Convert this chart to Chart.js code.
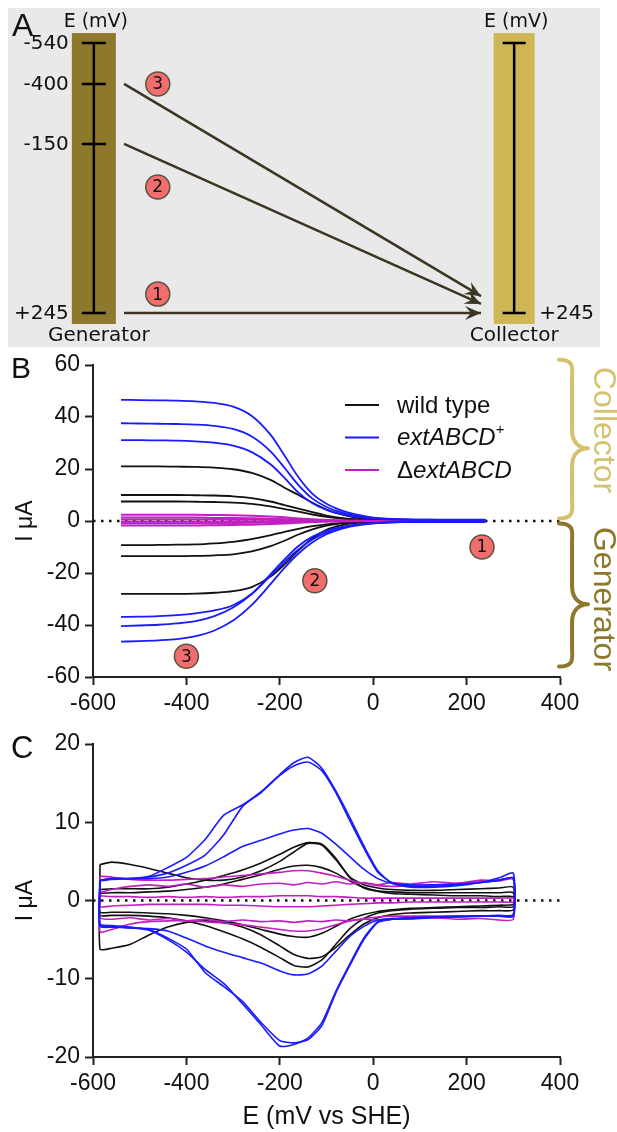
<!DOCTYPE html>
<html>
<head>
<meta charset="utf-8">
<script src="https://cdn.jsdelivr.net/npm/chart.js@4.4.0/dist/chart.umd.min.js"></script>
<style>
  html, body { margin: 0; padding: 0; background: #fff; }
  body { width: 617px; height: 1132px; position: relative; overflow: hidden; }
  canvas { position: absolute; }
  #chartA { left: 8px; top: 8px; background: #e9e9e9; }
  #chartB { left: 0; top: 340px; }
  #chartC { left: 0; top: 715px; }
</style>
</head>
<body>
<canvas id="chartA" width="592" height="339"></canvas>
<canvas id="chartB" width="617" height="375"></canvas>
<canvas id="chartC" width="617" height="417"></canvas>
<script>
/* ===== data ===== */

// A: schematic, potentials in mV
const genLevels = [-540, -400, -150, 245];
const colLevels = [-540, 245];
const stepFrom = [245, -150, -400];   // generator potential of step 1, 2, 3
const stepTo = 245;                   // collector potential
const stepNames = ['1', '2', '3'];

// B: steady state currents (µA) vs generator potential (mV)
const bE = [-540, -500, -460, -420, -380, -340, -300, -260, -220, -190, -160, -130, -100, -70, -40, -10, 20, 60, 120, 180, 240];
const extCol1 = [46.6, 46.5, 46.4, 46.3, 46.0, 45.4, 44.0, 40.4, 33.2, 25.2, 16.8, 10.4, 6.6, 4.2, 2.6, 1.6, 1.0, 0.7, 0.5, 0.5, 0.5];
const extCol2 = [37.6, 37.5, 37.4, 37.3, 37.1, 36.6, 35.4, 32.5, 26.8, 20.5, 13.8, 8.6, 5.4, 3.4, 2.1, 1.3, 0.9, 0.6, 0.5, 0.4, 0.4];
const extCol3 = [31.1, 31.1, 31.0, 30.9, 30.6, 30.1, 29.0, 26.5, 21.8, 16.6, 10.9, 6.8, 4.3, 2.7, 1.7, 1.1, 0.8, 0.5, 0.4, 0.4, 0.4];
const extGen1 = [-46.4, -46.2, -45.9, -45.4, -44.3, -42.1, -38.3, -32.3, -24.3, -18.0, -12.5, -8.2, -5.1, -3.1, -1.9, -1.1, -0.7, -0.4, -0.3, -0.3, -0.3];
const extGen2 = [-40.4, -40.2, -39.9, -39.4, -38.5, -36.6, -33.3, -28.1, -21.1, -15.7, -10.9, -7.1, -4.5, -2.7, -1.6, -1.0, -0.6, -0.4, -0.3, -0.3, -0.3];
const extGen3 = [-36.9, -36.8, -36.6, -36.2, -35.5, -34.4, -32.4, -28.0, -20.5, -14.8, -9.6, -6.0, -3.8, -2.4, -1.5, -0.9, -0.6, -0.4, -0.3, -0.3, -0.3];
const wtCol1 = [21.0, 21.0, 21.0, 20.9, 20.8, 20.5, 19.9, 18.5, 15.8, 12.8, 10.0, 7.0, 4.4, 2.6, 1.4, 0.7, 0.4, 0.2, 0.1, 0.1, 0.1];
const wtCol2 = [10.0, 10.0, 10.0, 10.0, 9.9, 9.8, 9.5, 8.8, 7.5, 6.1, 4.8, 3.4, 2.1, 1.2, 0.7, 0.4, 0.2, 0.1, 0.1, 0.1, 0.1];
const wtCol3 = [7.5, 7.5, 7.5, 7.5, 7.4, 7.3, 7.1, 6.6, 5.6, 4.6, 3.6, 2.5, 1.6, 0.9, 0.5, 0.3, 0.2, 0.1, 0.1, 0.1, 0.1];
const wtGen1 = [-28.0, -28.0, -28.0, -28.0, -27.9, -27.6, -27.0, -25.4, -21.4, -16.7, -11.3, -6.6, -3.4, -1.7, -0.8, -0.4, -0.2, -0.1, -0.1, -0.1, -0.1];
const wtGen2 = [-13.5, -13.5, -13.5, -13.5, -13.4, -13.2, -12.8, -11.7, -9.7, -7.6, -5.2, -3.2, -1.8, -0.9, -0.5, -0.2, -0.1, 0, 0, 0, 0];
const wtGen3 = [-9.3, -9.3, -9.2, -9.1, -9.0, -8.6, -8.0, -7.0, -5.5, -4.2, -3.0, -2.0, -1.3, -0.8, -0.5, -0.3, -0.2, -0.1, 0, 0, 0];
const mutCol1 = [2.4, 2.4, 2.4, 2.4, 2.4, 2.3, 2.2, 2.0, 1.7, 1.4, 1.0, 0.7, 0.4, 0.2, 0.1, 0.1, 0.1, 0.1, 0.1, 0.1, 0.1];
const mutCol2 = [1.3, 1.3, 1.3, 1.3, 1.3, 1.2, 1.2, 1.1, 0.9, 0.7, 0.5, 0.3, 0.2, 0.1, 0.1, 0, 0, 0, 0, 0, 0];
const mutCol3 = [0.6, 0.6, 0.6, 0.6, 0.6, 0.6, 0.5, 0.5, 0.4, 0.3, 0.2, 0.1, 0.1, 0, 0, 0, 0, 0, 0, 0, 0];
const mutGen1 = [-0.3, -0.3, -0.3, -0.3, -0.3, -0.3, -0.3, -0.3, -0.2, -0.2, -0.1, -0.1, 0, 0, 0, 0, 0, 0, 0, 0, 0];
const mutGen2 = [-0.9, -0.9, -0.9, -0.9, -0.9, -0.9, -0.8, -0.7, -0.6, -0.5, -0.4, -0.2, -0.1, -0.1, 0, 0, 0, 0, 0, 0, 0];
const mutGen3 = [-1.7, -1.7, -1.7, -1.7, -1.7, -1.6, -1.5, -1.4, -1.2, -1.0, -0.7, -0.4, -0.2, -0.1, -0.1, 0, 0, 0, 0, 0, 0];
const stepE = [233, -125, -400];      // where the numbered markers sit in B
const stepI = [-10, -23, -52];
const legendLabels = ['wild type', 'extABCD+', 'ΔextABCD'];
const braceNames = ['Collector', 'Generator'];
const braceTop = [62, -1];
const braceTip = [28, -32];
const braceBottom = [1, -56];
const braceText = [35, -30];

// C: cyclic voltammograms, forward (Fwd) and reverse (Rev) sweep on the same potentials
const cvE = [-585, -560, -520, -480, -440, -400, -360, -320, -280, -240, -200, -170, -140, -110, -80, -50, -20, 10, 40, 80, 130, 180, 230, 270, 300];
const ext1Fwd = [2.6, 2.8, 2.8, 3.1, 4.2, 5.5, 7.8, 10.9, 12.2, 13.9, 16.1, 17.6, 18.3, 16.9, 14.0, 10.6, 7.0, 3.8, 2.2, 1.7, 1.7, 1.9, 2.3, 2.9, 3.5];
const ext1Rev = [-3.2, -3.3, -3.5, -3.7, -4.8, -6.2, -9.2, -11.0, -12.9, -15.6, -17.9, -18.2, -17.8, -16.0, -11.8, -8.3, -5.0, -2.8, -2.4, -2.2, -2.1, -2.0, -2.0, -1.9, -1.8];
const ext2Fwd = [2.5, 2.7, 2.8, 3.0, 3.5, 4.5, 5.8, 8.4, 12.0, 13.8, 16.0, 17.2, 17.7, 16.6, 13.8, 10.2, 6.7, 3.6, 2.3, 1.8, 1.8, 2.0, 2.3, 2.6, 2.9];
const ext2Rev = [-3.0, -3.2, -3.4, -3.8, -5.0, -6.6, -8.8, -10.6, -13.2, -15.9, -18.6, -18.4, -17.6, -15.6, -11.6, -8.1, -4.8, -2.7, -2.4, -2.3, -2.2, -2.1, -2.0, -2.0, -1.9];
const ext3Fwd = [2.6, 2.8, 2.8, 2.8, 3.0, 3.6, 4.4, 5.6, 6.9, 7.7, 8.5, 9.0, 9.2, 8.6, 7.2, 5.6, 4.0, 2.8, 2.2, 2.0, 2.0, 2.1, 2.3, 2.6, 2.9];
const ext3Rev = [-3.3, -3.4, -3.5, -3.6, -3.9, -4.8, -5.8, -6.6, -7.3, -8.0, -9.0, -9.5, -9.4, -8.4, -6.5, -4.6, -3.3, -2.5, -2.3, -2.2, -2.1, -2.1, -2.0, -2.0, -2.0];
const wt1Fwd = [4.6, 4.9, 4.6, 4.1, 3.5, 2.9, 2.6, 2.6, 3.0, 3.8, 5.0, 6.2, 7.3, 7.1, 5.2, 3.0, 2.0, 1.6, 1.4, 1.3, 1.3, 1.4, 1.5, 1.6, 1.7];
const wt1Rev = [-6.2, -6.1, -5.6, -4.4, -3.4, -2.8, -2.6, -2.8, -3.4, -4.4, -5.8, -6.9, -7.4, -7.2, -6.0, -4.4, -3.0, -2.2, -1.8, -1.6, -1.5, -1.4, -1.3, -1.3, -1.2];
const wt2Fwd = [1.4, 1.5, 1.5, 1.5, 1.7, 2.1, 2.6, 3.2, 3.9, 4.8, 5.9, 6.8, 7.4, 7.2, 5.4, 2.9, 1.6, 1.2, 1.1, 1.0, 1.0, 1.0, 1.0, 1.0, 1.0];
const wt2Rev = [-1.9, -1.9, -1.9, -2.0, -2.2, -2.6, -3.2, -4.0, -4.9, -6.0, -7.3, -8.3, -8.5, -7.6, -5.6, -3.6, -2.3, -1.6, -1.3, -1.1, -1.0, -0.9, -0.9, -0.8, -0.8];
const wt3Fwd = [0.9, 1.0, 1.0, 1.1, 1.2, 1.4, 1.7, 2.1, 2.7, 3.3, 4.0, 4.4, 4.5, 4.2, 3.5, 2.5, 1.7, 1.2, 0.9, 0.8, 0.7, 0.6, 0.6, 0.5, 0.5];
const wt3Rev = [-1.5, -1.5, -1.5, -1.6, -1.7, -1.9, -2.2, -2.6, -3.1, -3.7, -4.3, -4.6, -4.7, -4.2, -3.3, -2.4, -1.8, -1.4, -1.2, -1.0, -0.9, -0.8, -0.7, -0.6, -0.5];
const mut1Fwd = [3.1, 3.0, 2.7, 2.6, 2.6, 2.7, 2.8, 3.0, 3.2, 3.4, 3.6, 3.8, 3.8, 3.5, 3.1, 2.6, 2.2, 1.9, 1.8, 1.9, 2.0, 2.2, 2.4, 2.6, 2.8];
const mut1Rev = [-4.0, -3.7, -3.0, -2.7, -2.6, -2.6, -2.7, -2.9, -3.1, -3.4, -3.7, -3.9, -3.9, -3.6, -3.1, -2.6, -2.3, -2.1, -2.0, -2.0, -2.0, -2.0, -2.0, -2.0, -2.0];
const mut2Fwd = [1.0, 1.4, 1.8, 2.0, 1.8, 2.1, 1.7, 2.0, 1.8, 2.1, 2.2, 2.0, 2.3, 2.1, 2.4, 2.1, 2.3, 2.0, 2.3, 2.1, 2.4, 2.2, 2.6, 2.5, 2.7];
const mut2Rev = [-2.2, -2.4, -2.2, -2.5, -2.3, -2.6, -2.4, -2.7, -2.5, -2.7, -2.6, -2.8, -2.6, -2.7, -2.5, -2.6, -2.4, -2.5, -2.3, -2.4, -2.2, -2.4, -2.3, -2.5, -2.4];
const mut3Fwd = [0.6, 0.5, 0.5, 0.4, 0.5, 0.4, 0.5, 0.4, 0.5, 0.5, 0.6, 0.6, 0.6, 0.5, 0.5, 0.4, 0.3, 0.3, 0.3, 0.3, 0.3, 0.3, 0.3, 0.3, 0.3];
const mut3Rev = [-0.8, -0.7, -0.6, -0.5, -0.5, -0.5, -0.5, -0.6, -0.6, -0.7, -0.8, -0.8, -0.8, -0.7, -0.6, -0.5, -0.4, -0.3, -0.3, -0.2, -0.2, -0.2, -0.2, -0.2, -0.2];

/* ===== styles / layout ===== */
const FONT = "'Liberation Sans', Arial, sans-serif";
const AFONT = "'DejaVu Sans', Verdana, sans-serif";
const COL = { wt: '#111111', ext: '#1a1aff', mut: '#c21fc2' };
const GEN_COLOR = '#8d782b', COL_COLOR = '#cfb654';
const BADGE = { fill: '#f26e6e', border: '#5b5440' };

// schematic layout (fractions of panel A)
const levelY = { '-540': 0.103, '-400': 0.224, '-150': 0.401, '245': 0.9 };
const GEN_X = 0.145, COL_X = 0.855, ARROW_X0 = 0.196, ARROW_X1 = 0.809;
const tipShift = [0, -0.027, -0.05];
const BADGE_X = 0.253, badgeY = [0.844, 0.528, 0.224];

Chart.defaults.font.family = FONT;
Chart.defaults.color = '#111';

/* ===== helpers ===== */
function fmtLevel(v) { return v > 0 ? '+' + v : String(v); }

function curve(xs, ys, color, order, width) {
    return {
        data: xs.map((x, i) => ({ x, y: ys[i] })),
        showLine: true, borderColor: color, borderWidth: width,
        pointRadius: 0, cubicInterpolationMode: 'monotone', order
    };
}

function loop(fwd, rev, color, order) {
    const pts = fwd.map((y, i) => ({ x: cvE[i], y }));
    const back = rev.map((y, i) => ({ x: cvE[i], y })).reverse();
    return {
        data: pts.concat(back, [pts[0]]),
        showLine: true, borderColor: color, borderWidth: 1.6,
        pointRadius: 0, tension: 0.2, order
    };
}

function zeroLine(order) {
    return {
        data: [{ x: -600, y: 0 }, { x: 400, y: 0 }],
        showLine: true, borderColor: '#111', borderWidth: 2.5,
        borderDash: [2.5, 5.5], pointRadius: 0, order
    };
}

function axis(min, max, step, fit, horizontal, title, titlePad) {
    return {
        type: 'linear', min, max,
        ticks: { stepSize: step, color: '#111', font: { family: FONT, size: 23 }, padding: 5 },
        grid: { drawOnChartArea: false, drawTicks: true, tickLength: 8, tickWidth: 2, tickColor: '#222' },
        border: { display: true, color: '#222', width: 2 },
        title: title ? { display: true, text: title, color: '#111', font: { family: FONT, size: horizontal ? 25 : 23 }, padding: titlePad } : { display: false },
        afterFit: s => { if (horizontal) s.height = fit; else s.width = fit; }
    };
}

function drawBadgeText(ctx, x, y, txt) {
    ctx.save();
    ctx.fillStyle = '#111';
    ctx.font = '17px ' + AFONT;
    ctx.textAlign = 'center';
    ctx.textBaseline = 'middle';
    ctx.fillText(txt, x, y + 1);
    ctx.restore();
}

function drawBrace(ctx, x, yTop, yTip, yBot, depth, color) {
    const m = x + depth * 0.45;
    const r = 9;
    ctx.save();
    ctx.strokeStyle = color;
    ctx.lineWidth = 4;
    ctx.lineCap = 'round';
    ctx.beginPath();
    ctx.moveTo(x, yTop);
    ctx.bezierCurveTo(m + 3, yTop, m, yTop + r, m, yTop + 2 * r);
    ctx.lineTo(m, yTip - 2 * r);
    ctx.bezierCurveTo(m, yTip - 5, x + depth - 8, yTip, x + depth, yTip);
    ctx.moveTo(x + depth, yTip);
    ctx.bezierCurveTo(x + depth - 8, yTip, m, yTip + 5, m, yTip + 2 * r);
    ctx.lineTo(m, yBot - 2 * r);
    ctx.bezierCurveTo(m, yBot - r, m + 3, yBot, x, yBot);
    ctx.stroke();
    ctx.restore();
}

function panelLetter(ctx, txt, x, y, size) {
    ctx.save();
    ctx.fillStyle = '#111';
    ctx.font = size + 'px ' + FONT;
    ctx.textBaseline = 'alphabetic';
    ctx.fillText(txt, x, y);
    ctx.restore();
}

/* ===== A: schematic ===== */
const schematicPlugin = {
    id: 'schematic',
    beforeDatasetsDraw(chart) {
        const { ctx, scales: { x, y } } = chart;
        const barTop = y.getPixelForValue(0.074), barBot = y.getPixelForValue(0.932);
        const bars = [
            { cx: GEN_X, w: 44, color: GEN_COLOR, levels: genLevels, half: 12 },
            { cx: COL_X, w: 41, color: COL_COLOR, levels: colLevels, half: 11.5 }
        ];
        bars.forEach(b => {
            const px = x.getPixelForValue(b.cx);
            ctx.fillStyle = b.color;
            ctx.fillRect(px - b.w / 2, barTop, b.w, barBot - barTop);
            const ys = b.levels.map(v => y.getPixelForValue(levelY[v]));
            ctx.strokeStyle = '#000';
            ctx.lineWidth = 2.5;
            ctx.beginPath();
            ctx.moveTo(px, Math.min(...ys));
            ctx.lineTo(px, Math.max(...ys));
            ys.forEach(py => { ctx.moveTo(px - b.half, py); ctx.lineTo(px + b.half, py); });
            ctx.stroke();
        });
    },
    afterDraw(chart) {
        const { ctx, scales: { x, y } } = chart;
        // arrow heads
        chart.data.datasets.forEach(ds => {
            if (!ds.arrow) return;
            const [p0, p1] = ds.data;
            const x0 = x.getPixelForValue(p0.x), y0 = y.getPixelForValue(p0.y);
            const x1 = x.getPixelForValue(p1.x), y1 = y.getPixelForValue(p1.y);
            const a = Math.atan2(y1 - y0, x1 - x0);
            ctx.save();
            ctx.translate(x1, y1);
            ctx.rotate(a);
            ctx.fillStyle = ds.borderColor;
            ctx.beginPath();
            ctx.moveTo(0, 0);
            ctx.lineTo(-16, -7);
            ctx.lineTo(-10, 0);
            ctx.lineTo(-16, 7);
            ctx.closePath();
            ctx.fill();
            ctx.restore();
        });
        // level labels
        ctx.save();
        ctx.fillStyle = '#111';
        ctx.font = '20px ' + AFONT;
        ctx.textBaseline = 'middle';
        ctx.textAlign = 'right';
        const gx = x.getPixelForValue(GEN_X), cx = x.getPixelForValue(COL_X);
        genLevels.forEach(v => ctx.fillText(fmtLevel(v), gx - 25, y.getPixelForValue(levelY[v]) + 1));
        ctx.textAlign = 'left';
        ctx.fillText(fmtLevel(stepTo), cx + 25, y.getPixelForValue(levelY[stepTo]) + 1);
        ctx.textAlign = 'center';
        ctx.fillText('Generator', gx + 5, 328);
        ctx.fillText('Collector', cx, 328);
        ctx.font = '19px ' + AFONT;
        ctx.fillText('E (mV)', gx + 2, 14);
        ctx.fillText('E (mV)', cx + 2, 14);
        ctx.restore();
        panelLetter(ctx, 'A', 4, 28, 32);
        // badge numbers
        const meta = chart.getDatasetMeta(chart.data.datasets.length - 1);
        meta.data.forEach((pt, i) => drawBadgeText(ctx, pt.x, pt.y, stepNames[i]));
    }
};

const arrowSets = stepFrom.map((v, i) => ({
    arrow: true,
    data: [{ x: ARROW_X0, y: levelY[v] }, { x: ARROW_X1 - 0.01, y: levelY[stepTo] + tipShift[i] }],
    showLine: true, borderColor: '#3b3522', borderWidth: 2.5, pointRadius: 0
}));

new Chart(document.getElementById('chartA'), {
    type: 'scatter',
    data: {
        datasets: arrowSets.concat([{
            data: stepNames.map((s, i) => ({ x: BADGE_X, y: badgeY[i] })),
            pointRadius: 12, pointBackgroundColor: BADGE.fill,
            pointBorderColor: BADGE.border, pointBorderWidth: 1.5
        }])
    },
    options: {
        responsive: false, animation: false, devicePixelRatio: 1, events: [],
        layout: { padding: 0, autoPadding: false },
        plugins: { legend: { display: false }, tooltip: { enabled: false } },
        scales: {
            x: { type: 'linear', min: 0, max: 1, display: false },
            y: { type: 'linear', min: 0, max: 1, reverse: true, display: false }
        }
    },
    plugins: [schematicPlugin]
});

/* ===== B: generator / collector currents ===== */
const legendParts = [
    [[legendLabels[0], 'n']],
    [[legendLabels[1].slice(0, 7), 'i'], [legendLabels[1].slice(7), 'sup']],
    [[legendLabels[2].slice(0, 1), 'n'], [legendLabels[2].slice(1), 'i']]
];
const legendColors = [COL.wt, COL.ext, COL.mut];

const panelBPlugin = {
    id: 'panelB',
    afterDraw(chart) {
        const { ctx, chartArea, scales: { y } } = chart;
        // legend
        legendParts.forEach((parts, i) => {
            const ly = chartArea.top + 40 + i * 32.5;
            ctx.save();
            ctx.strokeStyle = legendColors[i];
            ctx.lineWidth = 2;
            ctx.beginPath();
            ctx.moveTo(chartArea.left + 252, ly);
            ctx.lineTo(chartArea.left + 286, ly);
            ctx.stroke();
            ctx.fillStyle = '#111';
            ctx.textBaseline = 'middle';
            let tx = chartArea.left + 304;
            parts.forEach(([txt, st]) => {
                const size = st === 'sup' ? 15 : 24;
                ctx.font = (st === 'i' ? 'italic ' : '') + size + 'px ' + FONT;
                ctx.fillText(txt, tx, ly + 1 + (st === 'sup' ? -9 : 0));
                tx += ctx.measureText(txt).width;
            });
            ctx.restore();
        });
        // braces and their labels
        braceNames.forEach((name, i) => {
            const color = i === 0 ? '#d5c271' : GEN_COLOR;
            drawBrace(ctx, chartArea.right - 1, y.getPixelForValue(braceTop[i]), y.getPixelForValue(braceTip[i]),
                y.getPixelForValue(braceBottom[i]), 29, color);
            ctx.save();
            ctx.translate(chartArea.right + 34, y.getPixelForValue(braceText[i]));
            ctx.rotate(Math.PI / 2);
            ctx.fillStyle = color;
            ctx.font = '32px ' + FONT;
            ctx.textAlign = 'center';
            ctx.textBaseline = 'alphabetic';
            ctx.fillText(name, 0, 0);
            ctx.restore();
        });
        panelLetter(ctx, 'B', 11, 38, 30);
        const meta = chart.getDatasetMeta(0);
        meta.data.forEach((pt, i) => drawBadgeText(ctx, pt.x, pt.y, stepNames[i]));
    }
};

new Chart(document.getElementById('chartB'), {
    type: 'scatter',
    data: {
        datasets: [
            {
                data: stepE.map((e, i) => ({ x: e, y: stepI[i] })),
                pointRadius: 12, pointBackgroundColor: BADGE.fill,
                pointBorderColor: BADGE.border, pointBorderWidth: 1.5, order: 0
            },
            curve(bE, extCol1, COL.ext, 1, 1.8), curve(bE, extCol2, COL.ext, 1, 1.8), curve(bE, extCol3, COL.ext, 1, 1.8),
            curve(bE, extGen1, COL.ext, 1, 1.8), curve(bE, extGen2, COL.ext, 1, 1.8), curve(bE, extGen3, COL.ext, 1, 1.8),
            curve(bE, mutCol1, COL.mut, 2, 2), curve(bE, mutCol2, COL.mut, 2, 2), curve(bE, mutCol3, COL.mut, 2, 2),
            curve(bE, mutGen1, COL.mut, 2, 2), curve(bE, mutGen2, COL.mut, 2, 2), curve(bE, mutGen3, COL.mut, 2, 2),
            curve(bE, wtCol1, COL.wt, 3, 1.8), curve(bE, wtCol2, COL.wt, 3, 1.8), curve(bE, wtCol3, COL.wt, 3, 1.8),
            curve(bE, wtGen1, COL.wt, 3, 1.8), curve(bE, wtGen2, COL.wt, 3, 1.8), curve(bE, wtGen3, COL.wt, 3, 1.8),
            zeroLine(4)
        ]
    },
    options: {
        responsive: false, animation: false, devicePixelRatio: 1, events: [],
        layout: { padding: { left: 0, right: 57, top: 25, bottom: 0 }, autoPadding: false },
        plugins: { legend: { display: false }, tooltip: { enabled: false } },
        scales: {
            x: axis(-600, 400, 200, 38, true),
            y: axis(-60, 60, 20, 93, false, 'I μA', { top: 12, bottom: 0 })
        }
    },
    plugins: [panelBPlugin]
});

/* ===== C: cyclic voltammetry ===== */
const panelCPlugin = {
    id: 'panelC',
    afterDraw(chart) { panelLetter(chart.ctx, 'C', 11, 43, 31); }
};

new Chart(document.getElementById('chartC'), {
    type: 'scatter',
    data: {
        datasets: [
            loop(ext1Fwd, ext1Rev, COL.ext, 1), loop(ext2Fwd, ext2Rev, COL.ext, 1), loop(ext3Fwd, ext3Rev, COL.ext, 1),
            loop(mut1Fwd, mut1Rev, COL.mut, 2), loop(mut2Fwd, mut2Rev, COL.mut, 2), loop(mut3Fwd, mut3Rev, COL.mut, 2),
            loop(wt1Fwd, wt1Rev, COL.wt, 3), loop(wt2Fwd, wt2Rev, COL.wt, 3), loop(wt3Fwd, wt3Rev, COL.wt, 3),
            zeroLine(4)
        ]
    },
    options: {
        responsive: false, animation: false, devicePixelRatio: 1, events: [],
        layout: { padding: { left: 0, right: 57, top: 29, bottom: 0 }, autoPadding: false },
        plugins: { legend: { display: false }, tooltip: { enabled: false } },
        scales: {
            x: axis(-600, 400, 200, 75, true, 'E (mV vs SHE)', { top: 0, bottom: 0 }),
            y: axis(-20, 20, 10, 93, false, 'I μA', { top: 12, bottom: 0 })
        }
    },
    plugins: [panelCPlugin]
});
</script>
</body>
</html>
